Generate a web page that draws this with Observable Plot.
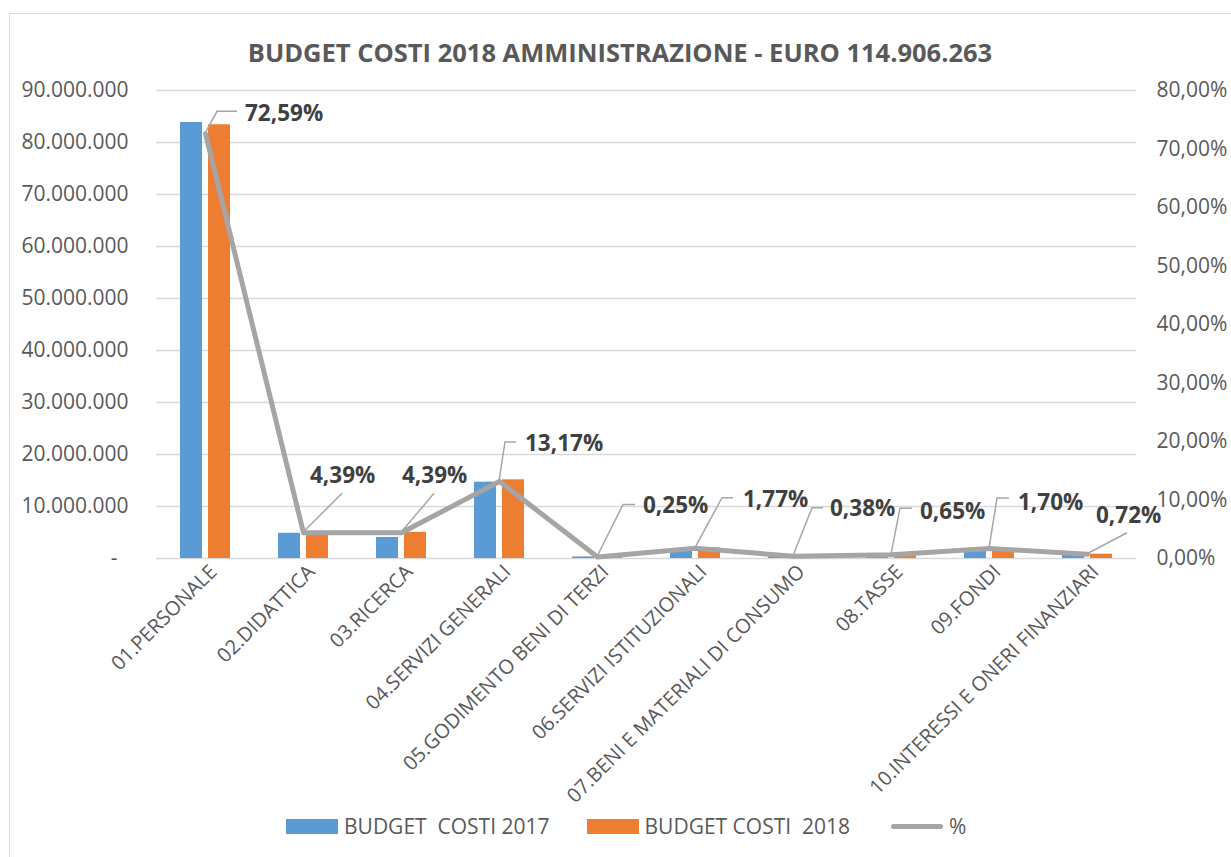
<!DOCTYPE html>
<html>
<head>
<meta charset="utf-8">
<script src="https://cdn.jsdelivr.net/npm/d3@7"></script>
<script src="https://cdn.jsdelivr.net/npm/@observablehq/plot@0.6"></script>
<style>
  html, body { margin: 0; padding: 0; background: #fff; width: 1231px; height: 857px; overflow: hidden; }
  body { position: relative; font-family: "Open Sans", "DejaVu Sans", sans-serif; }
  #frame { position: absolute; left: 9px; top: 13px; width: 1400px; height: 1000px; border: 1px solid #d9d9d9; box-sizing: border-box; }
  #title { position: relative; height: 76px; box-sizing: border-box; line-height: 30px; padding-top: 37px; text-align: center; padding-left: 9px;
           font-weight: 700; font-size: 25.5px; color: #595959; white-space: pre; }
  #chart { position: relative; height: 725px; }
  #legend { position: relative; height: 50px; display: flex; align-items: center; padding-left: 286px; color: #595959; font-size: 21px; white-space: pre; }
  .item { display: flex; align-items: center; margin-right: 37px; }
  .sw { width: 52px; height: 15px; margin-right: 6px; }
  .ln { width: 52px; height: 5px; border-radius: 3px; background: #A5A5A5; margin-right: 6px; }
</style>
</head>
<body>
<div id="frame"></div>
<div id="title">BUDGET COSTI 2018 AMMINISTRAZIONE - EURO 114.906.263</div>
<div id="chart"></div>
<div id="legend">
  <div class="item"><div class="sw" style="background:#5B9BD5"></div><span>BUDGET  COSTI 2017</span></div>
  <div class="item" style="margin-right:41px"><div class="sw" style="background:#ED7D31"></div><span>BUDGET COSTI  2018</span></div>
  <div class="item"><div class="ln"></div><span>%</span></div>
</div>
<script>
// ---- data ----
const categories = [
  "01.PERSONALE", "02.DIDATTICA", "03.RICERCA", "04.SERVIZI GENERALI",
  "05.GODIMENTO BENI DI TERZI", "06.SERVIZI ISTITUZIONALI",
  "07.BENI E MATERIALI DI CONSUMO", "08.TASSE", "09.FONDI",
  "10.INTERESSI E ONERI FINANZIARI"
];
const budget2017 = [83850000, 4850000, 4050000, 14680000, 300000, 1400000, 300000, 200000, 1400000, 600000];
const budget2018 = [83410000, 5040000, 5040000, 15130000, 290000, 2030000, 440000, 750000, 1950000, 830000];
const percent = [72.59, 4.39, 4.39, 13.17, 0.25, 1.77, 0.38, 0.65, 1.70, 0.72];
const percentLabels = ["72,59%", "4,39%", "4,39%", "13,17%", "0,25%", "1,77%", "0,38%", "0,65%", "1,70%", "0,72%"];
const leftTicks = [0, 10000000, 20000000, 30000000, 40000000, 50000000, 60000000, 70000000, 80000000, 90000000];
const rightTicks = [0, 10, 20, 30, 40, 50, 60, 70, 80];

// label placement (pixel offsets from each data point): elbow dx, elbow dy, horizontal run, text dx, text dy
const labelLayout = [
  [12, -22, 20, 40, -20],
  [39, -39, 0, 7, -57],
  [33, -39, 0, 1, -57],
  [6, -39, 11, 26, -38],
  [26, -52, 12, 46, -52],
  [27, -50, 11, 48, -49],
  [19, -48, 11, 37, -48],
  [9, -46, 12, 29, -43],
  [8, -50, 12, 29, -46],
  [40, -21, 0, 9, -39]
];

const yMax = 90000000, pMax = 80;
const toLeft = p => p / pMax * yMax;

const rows = categories.map((c, i) => ({cat: c, v2017: budget2017[i], v2018: budget2018[i], pct: percent[i], lab: percentLabels[i], lay: labelLayout[i]}));

const fmtLeft = d => d === 0 ? "-\u00a0\u00a0" : d3.format(",")(d).replace(/,/g, ".");
const fmtRight = d => (d / yMax * pMax).toFixed(2).replace(".", ",") + "%";

function labels(index, scales) {
  const g = d3.create("svg:g").attr("text-anchor", "start");
  const bw = scales.x.bandwidth ? scales.x.bandwidth() : 0;
  rows.forEach(d => {
    const px = scales.x(d.cat) + bw / 2;
    const py = scales.y(toLeft(d.pct));
    const [ex, ey, h, tx, ty] = d.lay;
    const pts = [[px, py], [px + ex, py + ey]];
    if (h > 0) pts.push([px + ex + h, py + ey]);
    g.append("path")
      .attr("d", d3.line()(pts))
      .attr("fill", "none")
      .attr("stroke", "#A6A6A6")
      .attr("stroke-width", 1.5);
    g.append("text")
      .attr("x", px + tx)
      .attr("y", py + ty)
      .attr("dy", "0.36em")
      .attr("text-anchor", "start")
      .attr("fill", "#404040")
      .attr("font-weight", 700)
      .attr("font-size", "22.5px")
      .text(d.lab);
  });
  return g.node();
}

const chart = Plot.plot({
  width: 1231,
  height: 725,
  marginLeft: 156,
  marginRight: 95,
  marginTop: 14,
  marginBottom: 243,
  style: {fontFamily: "'Open Sans', sans-serif", fontSize: "21px", color: "#595959", background: "transparent", overflow: "visible"},
  x: {type: "band", domain: categories, padding: 0, label: null},
  y: {domain: [0, yMax], label: null},
  marks: [
    Plot.ruleY(leftTicks, {stroke: "#d9d9d9", strokeWidth: 1.5}),
    Plot.barY(rows, {x: "cat", y: "v2017", fill: "#5B9BD5", insetLeft: 24, insetRight: 52}),
    Plot.barY(rows, {x: "cat", y: "v2018", fill: "#ED7D31", insetLeft: 52, insetRight: 24}),
    Plot.line(rows, {x: "cat", y: d => toLeft(d.pct), stroke: "#A5A5A5", strokeWidth: 5, strokeLinejoin: "round"}),
    labels,
    Plot.axisY({anchor: "left", ticks: leftTicks, tickFormat: fmtLeft, tickSize: 0, tickPadding: 28, label: null}),
    Plot.axisY({anchor: "right", ticks: rightTicks.map(toLeft), tickFormat: fmtRight, tickSize: 0, tickPadding: 20, label: null}),
    Plot.axisX({anchor: "bottom", tickRotate: -45, tickSize: 0, tickPadding: 10, dx: 8, fontSize: 20, label: null})
  ]
});
document.getElementById("chart").appendChild(chart);
</script>
</body>
</html>
